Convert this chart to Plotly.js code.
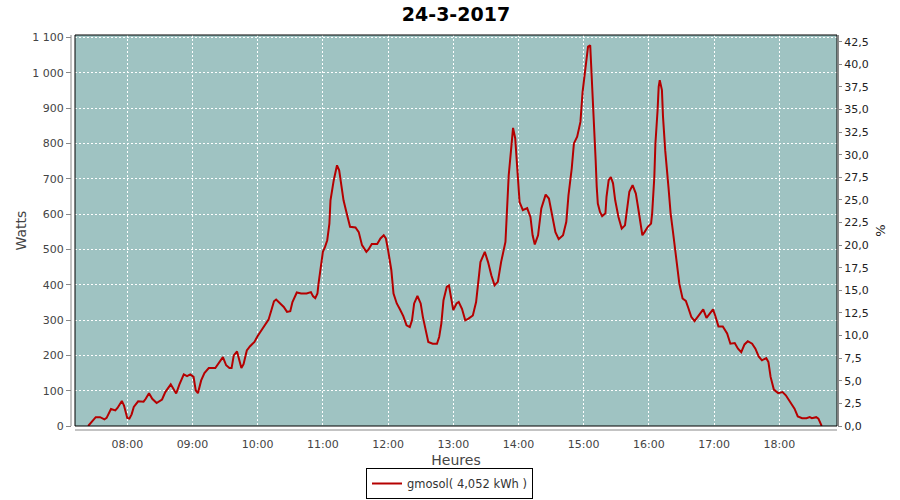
<!DOCTYPE html>
<html>
<head>
<meta charset="utf-8">
<script src="https://cdn.plot.ly/plotly-3.0.1.min.js"></script>
<style>html,body{margin:0;padding:0;background:#fff;}#chart{width:900px;height:500px;}</style>
</head>
<body>
<div id="chart"></div>
<script>
const chartDate = "2017-03-24";
const chartTitle = "24-3-2017";
const seriesName = "gmosol( 4,052 kWh )";
const times = ["07:24","07:31","07:35","07:39","07:41","07:45","07:49","07:51","07:55","07:57",
"08:00","08:02","08:04","08:06","08:10","08:15","08:17","08:20","08:23","08:27","08:32","08:35","08:40","08:45","08:48","08:52","08:55","08:58",
"09:01","09:03","09:05","09:08","09:11","09:15","09:21","09:24","09:28","09:31","09:34","09:36","09:38","09:41","09:43","09:45","09:47","09:50","09:53","09:57",
"10:00","10:05","10:10","10:13","10:15","10:17","10:20","10:24","10:27","10:30","10:32","10:36","10:40","10:45","10:49","10:51","10:53","10:55","10:56","10:58",
"11:00","11:02","11:04","11:06","11:07","11:10","11:13","11:15","11:17","11:19","11:22","11:25","11:30","11:33","11:36","11:40","11:42","11:45","11:50","11:53","11:56","11:58",
"12:00","12:03","12:05","12:08","12:11","12:14","12:17","12:20","12:22","12:24","12:27","12:30","12:32","12:35","12:37","12:41","12:45","12:47","12:49","12:51","12:54","12:56","12:58",
"13:00","13:03","13:05","13:08","13:11","13:14","13:18","13:21","13:23","13:25","13:29","13:32","13:35","13:38","13:41","13:44","13:48","13:49","13:51","13:53","13:55","13:57","13:59",
"14:01","14:04","14:08","14:11","14:13","14:15","14:18","14:21","14:25","14:28","14:31","14:34","14:37","14:41","14:44","14:46","14:49","14:51","14:54","14:57","14:59",
"15:02","15:04","15:06","15:07","15:08","15:10","15:11","15:12","15:13","15:15","15:17","15:20","15:21","15:23","15:25","15:27","15:29","15:32","15:35","15:38","15:40","15:42","15:45","15:48","15:50","15:52","15:54","15:56","15:59",
"16:02","16:03","16:05","16:06","16:08","16:09","16:10","16:12","16:13","16:15","16:18","16:20","16:22","16:24","16:26","16:28","16:31","16:34","16:36","16:39","16:42","16:46","16:50","16:53","16:56","16:59",
"17:01","17:04","17:08","17:12","17:15","17:19","17:22","17:25","17:28","17:31","17:35","17:38","17:41","17:44","17:48","17:50","17:52","17:55","17:59",
"18:03","18:06","18:10","18:14","18:17","18:21","18:25","18:28","18:30","18:34","18:36","18:39"];
const watts = [0,25,25,19,23,48,44,51,71,58,
23,21,33,54,70,69,77,93,77,65,75,96,118,92,118,146,141,146,
139,101,93,129,150,164,164,178,195,172,164,164,200,211,186,164,175,214,226,238,
255,278,301,332,353,358,348,337,323,325,351,378,375,375,379,367,362,375,403,450,
493,507,526,573,639,696,738,724,686,639,601,564,562,549,512,493,500,515,515,531,540,531,
498,441,375,347,330,311,285,280,299,347,368,347,309,262,238,233,233,252,290,356,394,398,365,
328,347,351,332,299,304,313,351,408,464,493,464,427,398,408,464,521,597,710,776,844,814,710,
634,611,617,592,540,514,540,616,655,644,597,549,529,540,578,653,729,800,819,861,946,
1031,1074,1078,1017,932,847,753,677,630,606,594,602,649,696,705,687,639,592,559,568,611,663,682,658,620,573,540,549,564,
573,602,705,800,894,960,979,951,875,781,677,602,554,498,450,403,361,354,337,309,297,313,330,306,318,330,
313,282,282,262,233,235,219,209,231,240,233,219,197,186,192,181,139,103,93,
96,87,68,49,27,22,22,25,22,25,21,0];

const xs = times.map(t => chartDate + " " + t);
const L = 75, R = 837, T = 35, B = 426;
const pw = R - L, ph = B - T;
const px = v => v / pw, py = v => v / ph;

const traces = [
  {x: xs, y: watts, type: "scatter", mode: "lines", name: seriesName,
   line: {color: "#b50000", width: 2}, hoverinfo: "skip"},
  {x: [xs[0]], y: [0], type: "scatter", mode: "markers", yaxis: "y2",
   marker: {opacity: 0}, showlegend: false, hoverinfo: "skip"}
];

const tickFont = {family: "DejaVu Sans", size: 11, color: "#444"};
const layout = {
  width: 900, height: 500, autosize: false,
  margin: {l: L, r: 900 - R, t: T, b: 500 - B, pad: 0, autoexpand: false},
  paper_bgcolor: "#ffffff", plot_bgcolor: "#9fc3c2",
  separators: ", ",
  showlegend: true,
  title: {text: "<b>" + chartTitle + "</b>", font: {family: "DejaVu Sans", size: 19, color: "#000"},
          x: 0.5, xanchor: "center", y: 1 - 14/500, yanchor: "middle", xref: "paper"},
  xaxis: {type: "date", range: [chartDate + " 07:11:54", chartDate + " 18:53:06"],
          dtick: 3600000, tick0: chartDate + " 08:00", tickformat: "%H:%M",
          showgrid: true, gridcolor: "#ffffff", gridwidth: 1, griddash: "2px,2px",
          ticks: "outside", ticklen: 8, tickcolor: "rgba(0,0,0,0)", automargin: false,
          tickfont: tickFont, showline: false, zeroline: false,
          title: {text: "Heures", font: {family: "DejaVu Sans", size: 14, color: "#444"}, standoff: 4}},
  yaxis: {range: [0, 1107], dtick: 100, tick0: 0, tickformat: ",d", automargin: false,
          showgrid: true, gridcolor: "#ffffff", gridwidth: 1, griddash: "2px,2px",
          ticks: "outside", ticklen: 8, tickcolor: "#888",
          tickfont: tickFont, showline: false, zeroline: false,
          title: {text: "Watts", font: {family: "DejaVu Sans", size: 14, color: "#444"}, standoff: 2}},
  yaxis2: {overlaying: "y", side: "right", range: [0, 43.24], dtick: 2.5, tick0: 0, tickformat: ".1f",
           showgrid: false, zeroline: false, ticks: "outside", ticklen: 4, tickcolor: "#888", automargin: false,
           tickfont: {family: "DejaVu Sans", size: 11, color: "#222"}, showline: false,
           title: {text: "%", font: {family: "DejaVu Sans", size: 13, color: "#222"}, standoff: 8}},
  legend: {orientation: "h", x: px(449.5 - L), xanchor: "center", y: -py(499 - B), yanchor: "bottom",
           bordercolor: "#000", borderwidth: 1, bgcolor: "#fff",
           font: {family: "DejaVu Sans", size: 11.5, color: "#333"}},
  shapes: [
    {type: "rect", xref: "paper", yref: "paper", x0: -px(4), x1: 0, y0: -py(4), y1: 1,
     fillcolor: "#fff", line: {width: 0}, layer: "above"},
    {type: "rect", xref: "paper", yref: "paper", x0: -px(4), x1: 1, y0: -py(4), y1: 0,
     fillcolor: "#fff", line: {width: 0}, layer: "above"},
    {type: "line", xref: "paper", yref: "paper", x0: -px(4), x1: -px(4), y0: 0, y1: 1,
     line: {color: "#888", width: 1}, layer: "above"},
    {type: "line", xref: "paper", yref: "paper", x0: 0, x1: 1, y0: -py(4), y1: -py(4),
     line: {color: "#888", width: 1}, layer: "above"},
    {type: "line", xref: "paper", yref: "paper", x0: 1 + px(1.5), x1: 1 + px(1.5), y0: 0, y1: 1,
     line: {color: "#888", width: 1}, layer: "above"},
    {type: "rect", xref: "paper", yref: "paper", x0: 0, x1: 1, y0: 0, y1: 1,
     line: {color: "#000", width: 1}, layer: "above"}
  ]
};
Plotly.newPlot("chart", traces, layout, {staticPlot: true, displayModeBar: false});
</script>
</body>
</html>
